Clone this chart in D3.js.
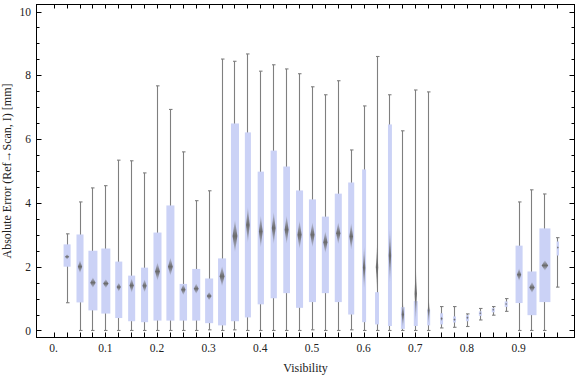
<!DOCTYPE html>
<html>
<head>
<meta charset="utf-8">
<script src="https://cdnjs.cloudflare.com/ajax/libs/d3/7.8.5/d3.min.js"></script>
<style>
body { margin: 0; background: #fff; }
text { font-family: "Liberation Serif", "Times New Roman", serif; fill: #222; }
</style>
</head>
<body>
<div id="chart"></div>
<script>
"use strict";

// category index 1..39, visibility = 0.025 * index (index 0 is empty)
var category = d3.range(1, 40);
var whiskerLow = [0.87, 0, 0, 0, 0, 0, 0, 0, 0, 0,
    0, 0.02, 0, 0.02, 0, 0, 0, 0, 0, 0.02,
    0, 0, 0.02, 0, 0, 0, 0, 0, 0, 0.08,
    0.10, 0.125, 0.33, 0.48, 0.60, 0, 0, 0, 1.36];
var quartile1 = [2.0, 0.88, 0.63, 0.53, 0.39, 0.29, 0.26, 0.31, 0.31, 0.31,
    0.31, 0.23, 0.16, 0.29, 0.41, 0.82, 1.01, 1.17, 0.71, 0.89,
    1.17, 0.89, 0.50, 0.26, 0.19, 0.14, 0.05, 0.14, 0.16, 0.19,
    0.25, 0.29, 0.46, 0.57, 0.74, 0.86, 0.48, 0.89, 2.35];
var quartile3 = [2.70, 3.01, 2.50, 2.57, 2.16, 1.72, 1.97, 3.07, 3.92, 1.46,
    1.93, 1.63, 2.26, 6.49, 6.21, 4.98, 5.64, 5.14, 4.39, 4.11,
    3.57, 4.29, 4.64, 5.05, 1.20, 6.46, 0.73, 0.92, 0.66, 0.54,
    0.44, 0.48, 0.60, 0.70, 0.91, 2.66, 1.85, 3.20, 2.79];
var whiskerHigh = [3.03, 4.03, 4.47, 4.54, 5.34, 5.32, 4.94, 7.67, 6.93, 5.60,
    4.07, 4.38, 8.51, 8.44, 8.67, 8.13, 8.33, 8.20, 8.05, 7.64,
    7.39, 7.83, 5.66, 7.04, 8.59, 7.39, 6.26, 7.54, 7.48, 0.75,
    0.75, 0.52, 0.69, 0.75, 1.00, 4.03, 4.41, 4.28, 2.91];
var meanValue = [2.31, 2.0, 1.50, 1.47, 1.36, 1.41, 1.40, 1.85, 2.0, 1.28,
    1.31, 1.08, 1.70, 2.96, 3.31, 3.10, 3.21, 3.16, 3.0, 3.0,
    2.77, 3.05, 2.95, 1.97, 1.98, 2.34, 0.50, 1.15, 0.63, 0.37,
    0.34, 0.40, 0.54, 0.65, 0.83, 1.75, 1.35, 2.04, 2.6];
// half height of the mean confidence diamond
var meanCI = [0.08, 0.20, 0.16, 0.14, 0.14, 0.22, 0.20, 0.28, 0.28, 0.17,
    0.16, 0.13, 0.31, 0.50, 0.55, 0.50, 0.50, 0.44, 0.44, 0.39,
    0.34, 0.34, 0.42, 0.66, 0.74, 0.83, 0.41, 0.86, 0.42, 0.08,
    0.06, 0.06, 0.05, 0.05, 0.05, 0.19, 0.17, 0.16, 0.06];
// relative box width (sample share)
var boxWeight = [0.64, 0.64, 0.82, 0.82, 0.64, 0.64, 0.64, 0.73, 0.73, 0.68,
    0.73, 0.73, 0.73, 0.73, 0.55, 0.57, 0.57, 0.61, 0.64, 0.64,
    0.64, 0.64, 0.55, 0.36, 0.36, 0.36, 0.36, 0.36, 0.27, 0.27,
    0.27, 0.27, 0.27, 0.27, 0.27, 0.64, 0.82, 1.0, 0.21];

var xTickIndex = [0, 4, 8, 12, 16, 20, 24, 28, 32, 36];
var xTickLabel = ["0.", "0.1", "0.2", "0.3", "0.4", "0.5", "0.6", "0.7", "0.8", "0.9"];
var yTicks = [0, 2, 4, 6, 8, 10];

var width = 576, height = 377;
var frame_left = 36.5, frame_right = 574.5, frame_top = 4.5, frame_bottom = 337.5;

var x = d3.scaleLinear().domain([-1.33, 40.33]).range([frame_left, frame_right]);
var y = d3.scaleLinear().domain([-0.22, 10.22]).range([frame_bottom, frame_top]);
var w = d3.scaleLinear().domain([0, 1]).range([0, 11]);

var svg = d3.select("#chart").append("svg")
    .attr("width", width)
    .attr("height", height);

var defs = svg.append("defs");
var grad = defs.append("linearGradient")
    .attr("id", "diamond_grad")
    .attr("x1", 0).attr("y1", 0).attr("x2", 0).attr("y2", 1);
grad.append("stop").attr("offset", "0%").attr("stop-color", "#6a6a6a").attr("stop-opacity", 0.15);
grad.append("stop").attr("offset", "50%").attr("stop-color", "#6a6a6a").attr("stop-opacity", 1);
grad.append("stop").attr("offset", "100%").attr("stop-color", "#6a6a6a").attr("stop-opacity", 0.15);
defs.append("filter").attr("id", "soft")
    .attr("x", "-100%").attr("y", "-20%").attr("width", "300%").attr("height", "140%")
    .append("feGaussianBlur").attr("stdDeviation", 0.45);

var data = category.map(function(c, i) {
    return {
        "idx": c,
        "lo": whiskerLow[i],
        "q1": quartile1[i],
        "q3": quartile3[i],
        "hi": whiskerHigh[i],
        "mean": meanValue[i],
        "ci": meanCI[i],
        "wt": boxWeight[i]
    };
});

// whiskers
var g = svg.append("g");
g.selectAll("line.whisker")
    .data(data)
    .enter()
    .append("line")
    .attr("class", "whisker")
    .attr("x1", function(d) { return Math.round(x(d.idx)) + 0.5; })
    .attr("x2", function(d) { return Math.round(x(d.idx)) + 0.5; })
    .attr("y1", function(d) { return y(d.lo); })
    .attr("y2", function(d) { return y(d.hi); })
    .attr("stroke", "#7f7f7f")
    .attr("stroke-width", 1.1);

["lo", "hi"].forEach(function(key) {
    g.selectAll("line.cap_" + key)
        .data(data)
        .enter()
        .append("line")
        .attr("class", "cap_" + key)
        .attr("x1", function(d) { return Math.round(x(d.idx)) - 1; })
        .attr("x2", function(d) { return Math.round(x(d.idx)) + 2.5; })
        .attr("y1", function(d) { return y(d[key]); })
        .attr("y2", function(d) { return y(d[key]); })
        .attr("stroke", "#7f7f7f")
        .attr("stroke-width", 1.1);
});

// boxes
g.selectAll("rect.box")
    .data(data)
    .enter()
    .append("rect")
    .attr("class", "box")
    .attr("x", function(d) { return x(d.idx) + 0.5 - w(d.wt) / 2; })
    .attr("width", function(d) { return w(d.wt); })
    .attr("y", function(d) { return y(d.q3); })
    .attr("height", function(d) { return y(d.q1) - y(d.q3); })
    .attr("fill", "#cbd2f6");

// mean confidence diamonds
g.selectAll("path.diamond")
    .data(data)
    .enter()
    .append("path")
    .attr("class", "diamond")
    .attr("d", function(d) {
        var cx = x(d.idx) + 0.5, hw = w(d.wt) * 0.3;
        var yt = y(d.mean + d.ci), yb = y(d.mean - d.ci), ym = y(d.mean);
        return "M" + cx + "," + yt + "L" + (cx + hw) + "," + ym
            + "L" + cx + "," + yb + "L" + (cx - hw) + "," + ym + "Z";
    })
    .attr("fill", "url(#diamond_grad)")
    .attr("filter", "url(#soft)");

// frame
svg.append("rect")
    .attr("x", frame_left).attr("y", frame_top)
    .attr("width", frame_right - frame_left).attr("height", frame_bottom - frame_top)
    .attr("fill", "none")
    .attr("stroke", "#000")
    .attr("stroke-width", 1);

// x ticks (bottom and top)
var xt = svg.append("g");
d3.range(0, 40).forEach(function(i) {
    var px = Math.round(x(i)) + 0.5;
    xt.append("line").attr("x1", px).attr("x2", px)
        .attr("y1", frame_bottom).attr("y2", frame_bottom - 5)
        .attr("stroke", "#000");
    xt.append("line").attr("x1", px).attr("x2", px)
        .attr("y1", frame_top).attr("y2", frame_top + 4)
        .attr("stroke", "#000");
});
xTickIndex.forEach(function(i, k) {
    xt.append("text")
        .attr("x", x(i))
        .attr("y", 352)
        .attr("text-anchor", "middle")
        .attr("font-size", 11.5)
        .text(xTickLabel[k]);
});

// y ticks (left and right)
var yt = svg.append("g");
d3.range(0, 10.01, 0.5).forEach(function(v) {
    var py = Math.round(y(v)) + 0.5;
    var major = (v % 2 === 0);
    var len = major ? 5 : 3;
    yt.append("line").attr("x1", frame_left).attr("x2", frame_left + len)
        .attr("y1", py).attr("y2", py).attr("stroke", "#000");
    yt.append("line").attr("x1", frame_right).attr("x2", frame_right - len)
        .attr("y1", py).attr("y2", py).attr("stroke", "#000");
});
yTicks.forEach(function(v) {
    yt.append("text")
        .attr("x", 31)
        .attr("y", y(v))
        .attr("dy", "0.35em")
        .attr("text-anchor", "end")
        .attr("font-size", 11.5)
        .text(v);
});

// axis labels
svg.append("text")
    .attr("x", (frame_left + frame_right) / 2)
    .attr("y", 372)
    .attr("text-anchor", "middle")
    .attr("font-size", 12)
    .text("Visibility");

svg.append("text")
    .attr("transform", "translate(11," + ((frame_top + frame_bottom) / 2) + ") rotate(-90)")
    .attr("text-anchor", "middle")
    .attr("font-size", 12)
    .text("Absolute Error (Ref\u2192Scan, I) [mm]");
</script>
</body>
</html>
